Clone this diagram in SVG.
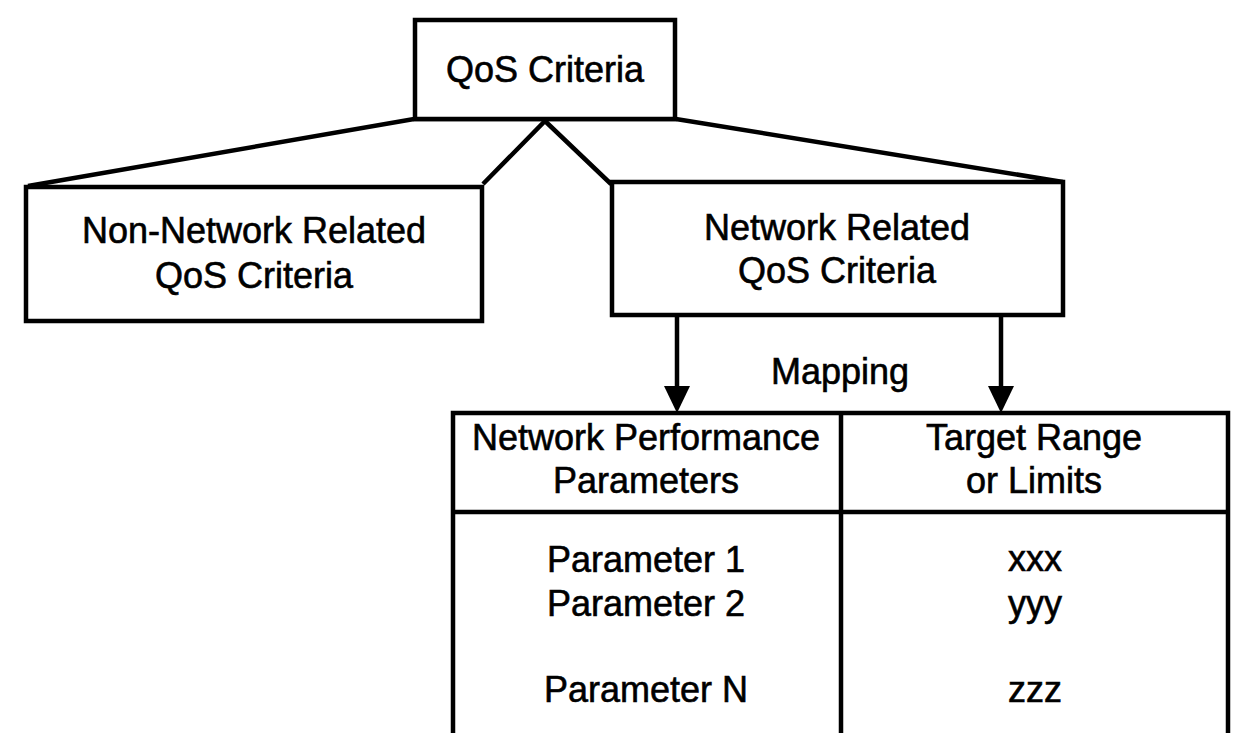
<svg xmlns="http://www.w3.org/2000/svg" width="1236" height="733" viewBox="0 0 1236 733">
<style>
.box{fill:#fff;stroke:#000;stroke-width:4.5}
.ln{fill:none;stroke:#000;stroke-width:4.5}
.head{fill:#000}
.t{font-family:"Liberation Sans",Arial,sans-serif;font-size:36px;fill:#000;stroke:#000;stroke-width:0.6;text-anchor:middle}
</style>
<rect width="1236" height="733" fill="#fff"/>
<g id="connectors">
<polyline class="ln" points="28,186 414,119 676,119 1063,182"/>
<polyline class="ln" points="483,184 545,121 611,184"/>
<line class="ln" x1="677" y1="316" x2="677" y2="388"/>
<polygon class="head" points="664,386 690,386 677,413"/>
<line class="ln" x1="1001" y1="316" x2="1001" y2="388"/>
<polygon class="head" points="988,386 1014,386 1001,413"/>
<text class="t" x="840" y="384">Mapping</text>
</g>
<g id="qos">
<rect class="box" x="415" y="20" width="260" height="99"/>
<text class="t" x="545" y="82">QoS Criteria</text>
</g>
<g id="non-network">
<rect class="box" x="26" y="187" width="456" height="134"/>
<text class="t" x="254" y="243">Non-Network Related</text>
<text class="t" x="254" y="288">QoS Criteria</text>
</g>
<g id="network">
<rect class="box" x="612" y="182" width="451" height="133"/>
<text class="t" x="837" y="240">Network Related</text>
<text class="t" x="837" y="283">QoS Criteria</text>
</g>
<g id="table">
<polyline class="ln" points="453,740 453,413 1228,413 1228,740"/>
<line class="ln" x1="841" y1="413" x2="841" y2="740"/>
<line class="ln" x1="453" y1="512" x2="1228" y2="512"/>
<text class="t" x="646" y="450">Network Performance</text>
<text class="t" x="646" y="493">Parameters</text>
<text class="t" x="1034" y="450">Target Range</text>
<text class="t" x="1034" y="493">or Limits</text>
<text class="t" x="646" y="572">Parameter 1</text>
<text class="t" x="646" y="616">Parameter 2</text>
<text class="t" x="646" y="702">Parameter N</text>
<text class="t" x="1035" y="571">xxx</text>
<text class="t" x="1035" y="616">yyy</text>
<text class="t" x="1035" y="702">zzz</text>
</g>
</svg>
